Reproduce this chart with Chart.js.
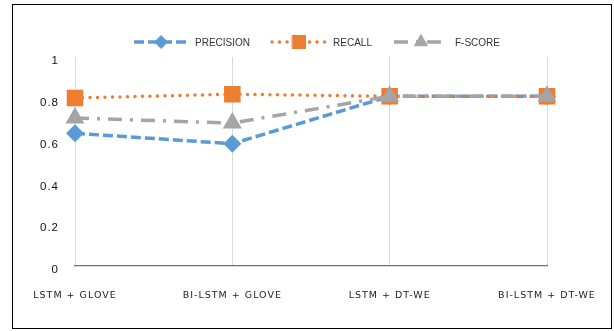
<!DOCTYPE html>
<html>
<head>
<meta charset="utf-8">
<script src="https://cdn.jsdelivr.net/npm/chart.js@4.4.1/dist/chart.umd.min.js"></script>
<style>
  body { margin: 0; background: #fff; }
  #wrap { position: relative; width: 614px; height: 331px; }
  #frame { position: absolute; left: 12px; top: 4px; width: 598px; height: 323px; border: 1.5px solid #000; }
  #grafico { position: absolute; left: 0; top: 0; }
</style>
</head>
<body>
<div id="wrap">
  <div id="frame"></div>
  <canvas id="grafico" width="614" height="331"></canvas>
</div>
<script>
// ---- DATOS ----
const modelos = ["LSTM + GLOVE", "BI-LSTM + GLOVE", "LSTM + DT-WE", "BI-LSTM + DT-WE"];
const precision = [0.635, 0.585, 0.812, 0.812];
const recall = [0.804, 0.822, 0.812, 0.812];
const fscore = [0.708, 0.684, 0.812, 0.812];
const yTicks = [0, 0.2, 0.4, 0.6, 0.8, 1];

// ---- LEYENDA CON LINEA + MARCADOR ----
const leyendaPlugin = {
  id: "leyendaLinea",
  beforeDraw(chart) {
    chart.ctx.letterSpacing = "1px";
  },
  afterDraw(chart) {
    const ctx = chart.ctx;
    ctx.save();
    ctx.letterSpacing = "0px";
    ctx.font = "10px 'Liberation Sans', Arial, sans-serif";
    const muestra = 54, gapTexto = 7, gapItem = 22, y = 42;
    const items = chart.data.datasets.map(ds => ({ ds, w: ctx.measureText(ds.label).width }));
    const total = items.reduce((s, it) => s + muestra + gapTexto + it.w, 0) + gapItem * (items.length - 1);
    let x = 317 - total / 2;
    items.forEach(({ ds, w }) => {
      ctx.save();
      ctx.strokeStyle = ds.borderColor;
      ctx.lineWidth = ds.borderWidth;
      ctx.lineCap = ds.borderCapStyle || "butt";
      ctx.setLineDash(ds.borderDash || []);
      ctx.beginPath();
      ctx.moveTo(x, y);
      ctx.lineTo(x + muestra, y);
      ctx.stroke();
      ctx.setLineDash([]);
      ctx.fillStyle = ds.pointBackgroundColor;
      ctx.strokeStyle = ds.pointBorderColor;
      ctx.lineWidth = 1;
      Chart.helpers.drawPoint(ctx, { pointStyle: ds.pointStyle, radius: ds.pointRadius, rotation: 0, borderWidth: 1 }, x + muestra / 2, y);
      ctx.restore();
      ctx.fillStyle = "#333";
      ctx.textBaseline = "middle";
      ctx.fillText(ds.label, x + muestra + gapTexto, y + 1);
      x += muestra + gapTexto + w + gapItem;
    });
    ctx.restore();
    ctx.letterSpacing = "0px";
  }
};

// ---- CHART.JS CONFIG ----
const ctx = document.getElementById("grafico").getContext("2d");
const grafico = new Chart(ctx, {
  type: "line",
  data: {
    labels: modelos,
    datasets: [
      {
        label: "PRECISION",
        data: precision,
        borderColor: "#5b9bd5",
        borderWidth: 3.5,
        borderDash: [10, 4],
        pointStyle: "rectRot",
        pointRadius: 6.5,
        pointBackgroundColor: "#5b9bd5",
        pointBorderColor: "#5b9bd5",
        tension: 0,
        order: 2
      },
      {
        label: "RECALL",
        data: recall,
        borderColor: "#ed7d31",
        borderWidth: 3.5,
        borderDash: [0, 7.5],
        borderCapStyle: "round",
        pointStyle: "rect",
        pointRadius: 9.2,
        pointBackgroundColor: "#ed7d31",
        pointBorderColor: "#ed7d31",
        tension: 0,
        order: 1
      },
      {
        label: "F-SCORE",
        data: fscore,
        borderColor: "#a5a5a5",
        borderWidth: 3.5,
        borderDash: [14, 8, 3, 8],
        pointStyle: "triangle",
        pointRadius: 7.5,
        pointBackgroundColor: "#a5a5a5",
        pointBorderColor: "#a5a5a5",
        tension: 0,
        order: 0
      }
    ]
  },
  options: {
    responsive: false,
    animation: false,
    devicePixelRatio: 1,
    layout: { padding: { top: 57, right: 67, left: 0, bottom: 25 } },
    plugins: {
      legend: { display: false },
      tooltip: { enabled: false }
    },
    scales: {
      x: {
        offset: false,
        afterFit: s => { s.height = 40; },
        grid: { color: "#d9d9d9", lineWidth: 1, drawTicks: false },
        border: { color: "#6f6f6f", width: 1.2 },
        ticks: {
          color: "#222",
          padding: 24,
          maxRotation: 0,
          autoSkip: false,
          font: { family: "'DejaVu Sans', sans-serif", size: 9.5 }
        }
      },
      y: {
        min: 0,
        max: 1,
        afterFit: s => { s.width = 75; },
        afterBuildTicks: s => { s.ticks = yTicks.map(v => ({ value: v })); },
        grid: { display: false, drawTicks: false },
        border: { display: false },
        ticks: {
          color: "#111",
          padding: 16,
          labelOffset: 4,
          callback: v => String(v),
          font: { family: "'Liberation Sans', Arial, sans-serif", size: 11.5 }
        }
      }
    }
  },
  plugins: [leyendaPlugin]
});
</script>
</body>
</html>
